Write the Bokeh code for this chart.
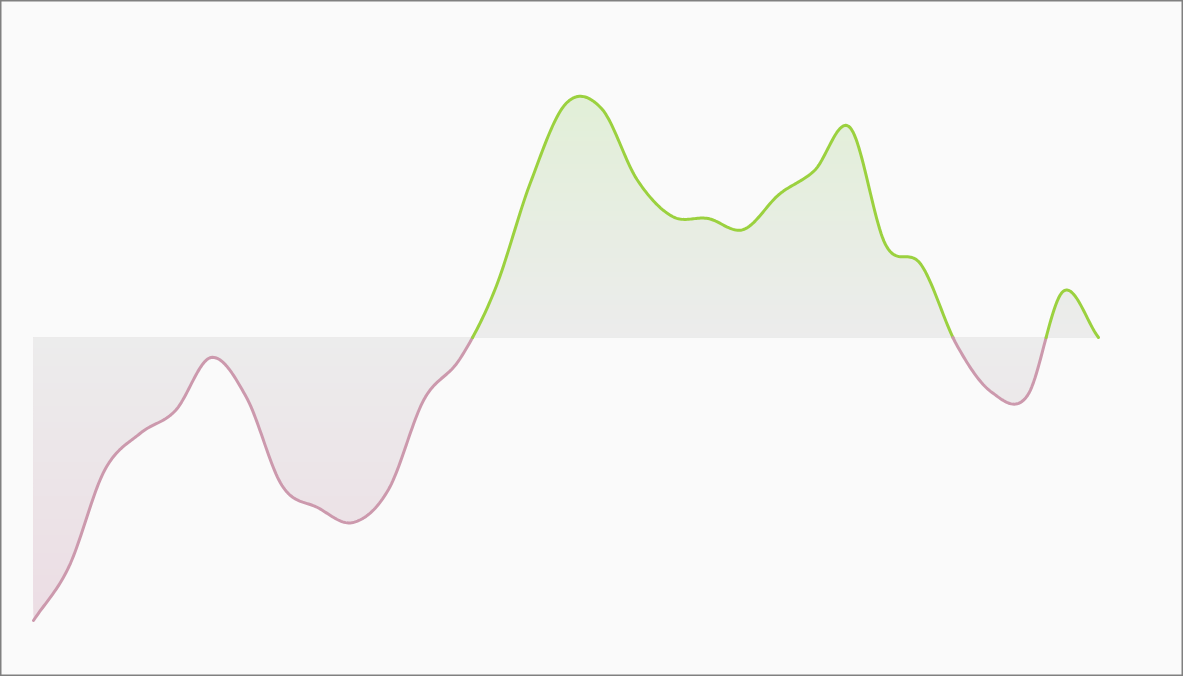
import numpy as np
from bokeh.plotting import figure
from bokeh.models import Range1d
from bokeh.embed import file_html
from bokeh.resources import INLINE

# data: one value per step (index 0..30), baseline at 0
steps = list(range(31))
values = [-283, -229, -133, -96, -73, -20, -60, -148, -170, -185, -152, -62, -22,
          48, 155, 234, 229, 158, 121, 119, 108, 143, 167, 210, 93, 73, -7, -55,
          -58, 46, 0]
baseline = 0

POS_LINE = "#9bd13f"
NEG_LINE = "#cc99ad"
MID_FILL = (236, 236, 236)
POS_FILL = (226, 239, 216)
NEG_FILL = (236, 221, 228)


def catmull_rom(xs, ys, n=24):
    xs = np.asarray(xs, float)
    ys = np.asarray(ys, float)
    N = len(xs)
    mx = np.zeros(N)
    my = np.zeros(N)
    for i in range(N):
        a = max(i - 1, 0)
        b = min(i + 1, N - 1)
        mx[i] = (xs[b] - xs[a]) / (b - a)
        my[i] = (ys[b] - ys[a]) / (b - a)
    ox, oy = [], []
    for i in range(N - 1):
        t = np.linspace(0, 1, n, endpoint=False)
        h00 = 2 * t**3 - 3 * t**2 + 1
        h10 = t**3 - 2 * t**2 + t
        h01 = -2 * t**3 + 3 * t**2
        h11 = t**3 - t**2
        ox.extend(h00 * xs[i] + h10 * mx[i] + h01 * xs[i + 1] + h11 * mx[i + 1])
        oy.extend(h00 * ys[i] + h10 * my[i] + h01 * ys[i + 1] + h11 * my[i + 1])
    ox.append(xs[-1])
    oy.append(ys[-1])
    return np.array(ox), np.array(oy)


cx, cy = catmull_rom(steps, values)

# insert zero crossings
X, Y = [cx[0]], [cy[0]]
for i in range(1, len(cx)):
    y0, y1 = cy[i - 1], cy[i]
    if (y0 - baseline) * (y1 - baseline) < 0:
        t = (baseline - y0) / (y1 - y0)
        X.append(cx[i - 1] + t * (cx[i] - cx[i - 1]))
        Y.append(baseline)
    X.append(cx[i])
    Y.append(cy[i])
X = np.array(X)
Y = np.array(Y)

p = figure(width=1183, height=676, output_backend="svg", toolbar_location=None,
           x_range=Range1d(-33 / 35.5, -33 / 35.5 + 1183 / 35.5),
           y_range=Range1d(-339, 337), min_border=0)
p.axis.visible = False
p.grid.visible = False
p.background_fill_color = "#fafafa"
p.border_fill_color = "#fafafa"
p.outline_line_color = "#808080"
p.outline_line_width = 2

ymax = max(values)
ymin = min(values)


def mix(c0, c1, t):
    return "#%02x%02x%02x" % tuple(int(round(a + (b - a) * t)) for a, b in zip(c0, c1))


NB = 50
base = np.full_like(Y, baseline, dtype=float)
# positive side: paint from outermost band inward, each covering baseline..edge
edges = np.linspace(baseline, ymax, NB + 1)
for k in range(NB - 1, -1, -1):
    top = edges[k + 1] if k < NB - 1 else ymax + 50
    up = np.clip(Y, baseline, top)
    col = mix(MID_FILL, POS_FILL, (k + 0.5) / NB)
    p.varea(x=X, y1=base, y2=up, fill_color=col, fill_alpha=1.0)
edges = np.linspace(baseline, ymin, NB + 1)
for k in range(NB - 1, -1, -1):
    bot = edges[k + 1] if k < NB - 1 else ymin - 50
    dn = np.clip(Y, bot, baseline)
    col = mix(MID_FILL, NEG_FILL, (k + 0.5) / NB)
    p.varea(x=X, y1=dn, y2=base, fill_color=col, fill_alpha=1.0)

# split line by sign
runs = []
cur_x, cur_y = [X[0]], [Y[0]]
cur_sign = None
for i in range(1, len(X)):
    mid = (Y[i - 1] + Y[i]) / 2
    s = mid >= baseline
    if cur_sign is None:
        cur_sign = s
    if s != cur_sign:
        runs.append((cur_sign, cur_x, cur_y))
        cur_x, cur_y = [X[i - 1]], [Y[i - 1]]
        cur_sign = s
    cur_x.append(X[i])
    cur_y.append(Y[i])
runs.append((cur_sign, cur_x, cur_y))

for s, rx, ry in runs:
    p.line(rx, ry, line_color=POS_LINE if s else NEG_LINE, line_width=3,
           line_join="round", line_cap="round")

open("out.html", "w").write(file_html(p, INLINE))
